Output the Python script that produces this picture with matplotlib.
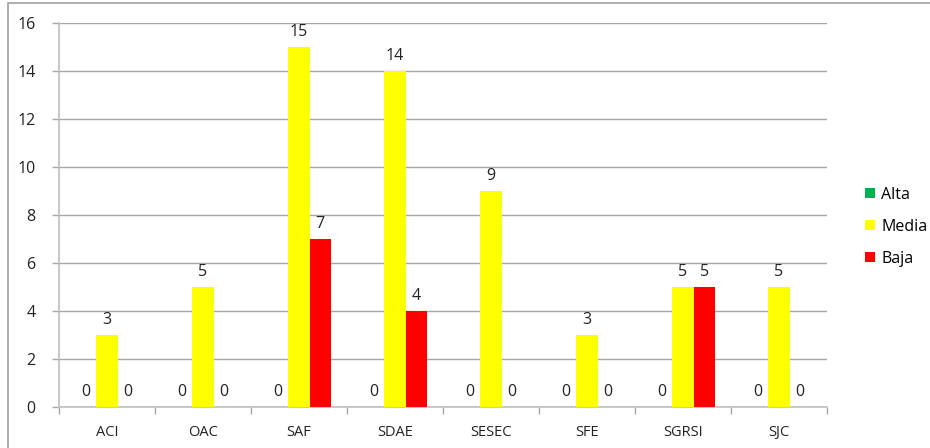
import matplotlib.pyplot as plt
from matplotlib.patches import Rectangle
import numpy as np

plt.rcParams['font.family'] = ['Open Sans', 'DejaVu Sans']

categories = ['ACI', 'OAC', 'SAF', 'SDAE', 'SESEC', 'SFE', 'SGRSI', 'SJC']
alta = [0, 0, 0, 0, 0, 0, 0, 0]
media = [3, 5, 15, 14, 9, 3, 5, 5]
baja = [0, 0, 7, 4, 0, 0, 5, 0]

series = [('Alta', alta, '#00B050'), ('Media', media, '#FFFF00'), ('Baja', baja, '#FF0000')]

W, H = 930, 448
fig = plt.figure(figsize=(W / 100, H / 100), dpi=100)
ax = fig.add_axes([59 / W, 1 - 407 / H, (827 - 59) / W, (407 - 23) / H])

x = np.arange(len(categories))
bw = 0.22
for i, (name, vals, col) in enumerate(series):
    pos = x + (i - 1) * bw
    ax.bar(pos, vals, bw, color=col, label=name, zorder=3)
    for p, v in zip(pos, vals):
        ax.text(p, v + 0.3, str(v), ha='center', va='bottom', fontsize=11.5, color='#222222')

ax.set_xlim(-0.5, len(categories) - 0.5)
ax.set_ylim(0, 16)
ax.set_yticks(range(0, 17, 2))
ax.set_xticks(x)
ax.set_xticklabels(categories)
ax.set_xticks(np.arange(-0.5, len(categories)), minor=True)
ax.tick_params(axis='x', which='major', length=0, pad=13, labelsize=10.5, colors='#222222')
ax.tick_params(axis='x', which='minor', length=5, color='#A6A6A6', width=1)
ax.tick_params(axis='y', length=5, color='#A6A6A6', width=1, labelsize=11.5, colors='#222222', pad=12)
ax.yaxis.grid(True, color='#A6A6A6', linewidth=1, zorder=0)
ax.set_axisbelow(True)
for s in ['top', 'right']:
    ax.spines[s].set_visible(False)
for s in ['left', 'bottom']:
    ax.spines[s].set_color('#BFBFBF')
    ax.spines[s].set_linewidth(1.2)

ax.legend(loc='center left', bbox_to_anchor=(851 / W, 1 - 227 / H), bbox_transform=fig.transFigure,
          frameon=False, handlelength=0.6, handleheight=0.6, handletextpad=0.4,
          labelspacing=1.0, fontsize=11.5)

fig.patches.append(Rectangle((8 / W, -0.1), 1.2, 1 - 3 / H + 0.1, transform=fig.transFigure,
                             fill=False, edgecolor='#A0A0A0', linewidth=1.2))

fig.savefig('out.png', dpi=100)
